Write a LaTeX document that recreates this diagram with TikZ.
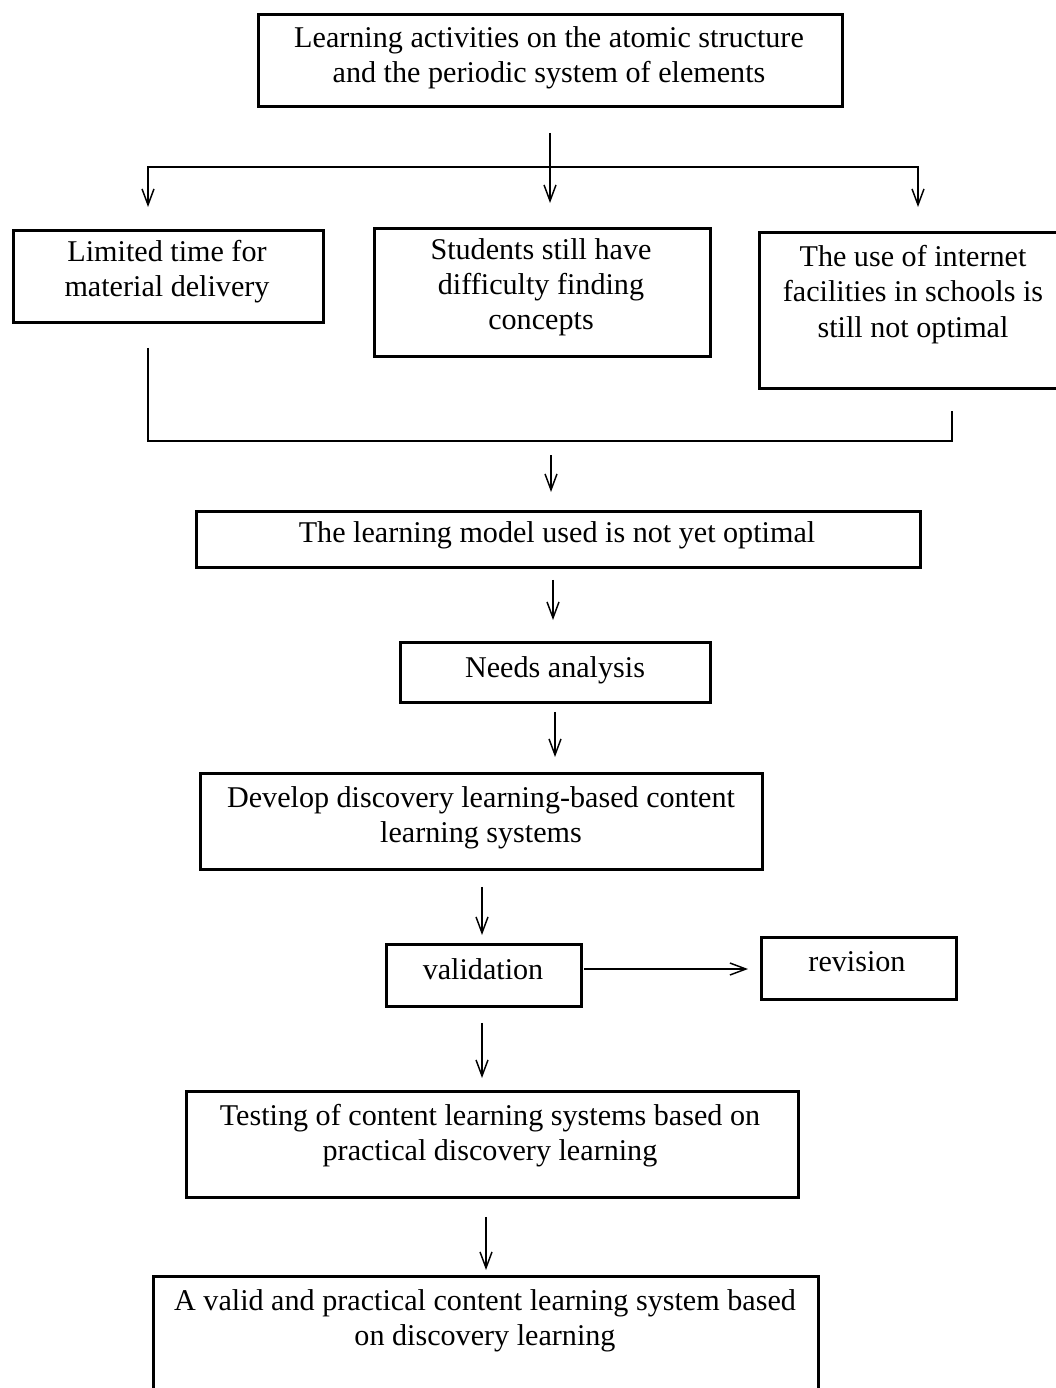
\documentclass[tikz,border=0pt]{standalone}
\usepackage{fontspec}
\setmainfont{Liberation Serif}
\usetikzlibrary{arrows.meta,calc}
\begin{document}
\begin{tikzpicture}[x=0.75pt,y=-0.75pt,
  box/.style={draw, line width=2.2pt, rectangle, inner sep=0pt, anchor=north west},
  txt/.style={anchor=north, inner sep=0pt, align=center, font=\fontsize{22.6}{26.5}\selectfont},
  ln/.style={line width=1.1pt},
  arr/.style={line width=1.1pt, -{Straight Barb[length=12pt,width=9pt,line width=1.1pt]}}]
\clip (0,0) rectangle (1056,1388);
% boxes
\node[box, minimum width=438pt, minimum height=69pt] (top) at (257,13) {};
\node[box, minimum width=232.5pt, minimum height=69pt] (left) at (12,229) {};
\node[box, minimum width=252pt, minimum height=96pt] (mid) at (373,227) {};
\node[box, minimum width=232.5pt, minimum height=117pt] (right) at (758,231) {};
\node[box, minimum width=543pt, minimum height=42pt] (lm) at (195,510) {};
\node[box, minimum width=232.5pt, minimum height=45pt] (needs) at (399,641) {};
\node[box, minimum width=421.5pt, minimum height=72pt] (dev) at (199,772) {};
\node[box, minimum width=146.25pt, minimum height=46.5pt] (val) at (385,943) {};
\node[box, minimum width=146.25pt, minimum height=46.5pt] (rev) at (760,936) {};
\node[box, minimum width=459pt, minimum height=79.5pt] (test) at (185,1090) {};
\node[box, minimum width=498.75pt, minimum height=105pt] (final) at (152,1275) {};
% texts
\node[txt] (topt) at (549,26) {Learning activities on the atomic structure\\and the periodic system of elements};
\node[txt] (leftt) at (167,240) {Limited time for\\material delivery};
\node[txt] (midt) at (541,238) {Students still have\\difficulty finding\\concepts};
\node[txt] (rightt) at (913,245) {The use of internet\\facilities in schools is\\still not optimal};
\node[txt] (lmt) at (557,521) {The learning model used is not yet optimal};
\node[txt] (needst) at (555,656) {Needs analysis};
\node[txt] (devt) at (481,786) {Develop discovery learning-based content\\learning systems};
\node[txt] (valt) at (483,958) {validation};
\node[txt] (revt) at (857,951) {revision};
\node[txt] (testt) at (490,1104) {Testing of content learning systems based on\\practical discovery learning};
\node[txt] (finalt) at (485,1289) {A valid and practical content learning system based\\on discovery learning};
% connectors
\coordinate (split) at (550,167);
\coordinate (join) at (551,438);
\draw[arr] ($(top.south -| split)+(0,25)$) -- ($(mid.north -| split)+(0,-24)$);
\draw[arr] (split) -| ($(left.north -| 148,0)+(0,-22)$);
\draw[arr] (split) -| ($(right.north -| 918,0)+(0,-24)$);
\draw[ln] ($(left.south -| 148,0)+(0,24)$) |- ($(right.south -| 952,0)+(0,51)$) -- ($(right.south -| 952,0)+(0,21)$);
\draw[arr] ($(join)+(0,17)$) -- ($(lm.north -| join)+(0,-18)$);
\draw[arr] ($(lm.south -| 553,0)+(0,11)$) -- ($(needs.north -| 553,0)+(0,-21)$);
\draw[arr] ($(needs.south -| 555,0)+(0,8)$) -- ($(dev.north -| 555,0)+(0,-15)$);
\draw[arr] ($(dev.south -| 482,0)+(0,16)$) -- ($(val.north -| 482,0)+(0,-8)$);
\draw[arr] ($(val.east |- 0,969)+(1,0)$) -- ($(rev.west |- 0,969)+(-12,0)$);
\draw[arr] ($(val.south -| 482,0)+(0,15)$) -- ($(test.north -| 482,0)+(0,-12)$);
\draw[arr] ($(test.south -| 486,0)+(0,18)$) -- ($(final.north -| 486,0)+(0,-5)$);
\end{tikzpicture}
\end{document}
